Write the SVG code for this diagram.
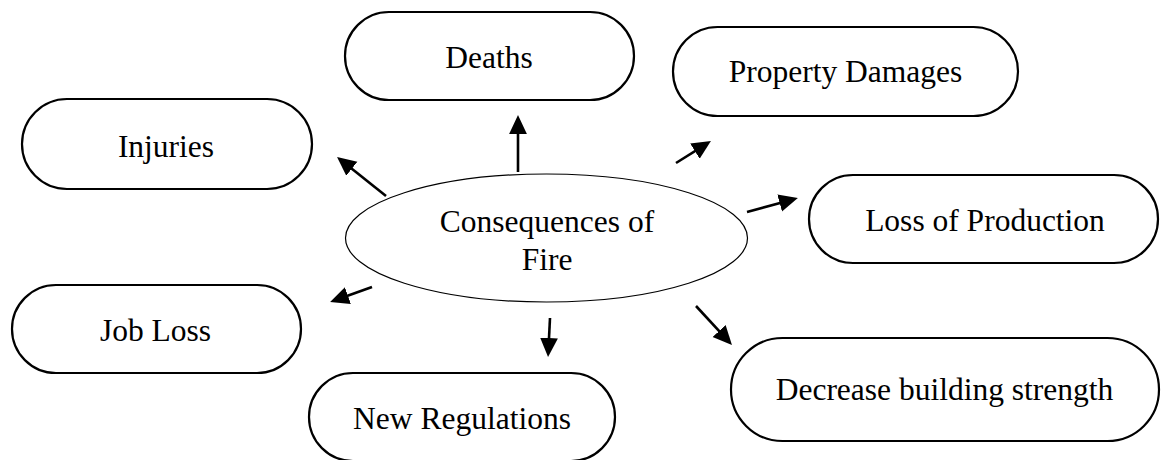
<svg xmlns="http://www.w3.org/2000/svg" width="1163" height="460" viewBox="0 0 1163 460">
  <style>
    .box { fill: #fff; stroke: #000; stroke-width: 2.2; }
    .hub { fill: #fff; stroke: #000; stroke-width: 1.2; }
    .lbl { font-family: "Liberation Serif", "Times New Roman", serif; font-size: 31.5px; fill: #000; text-anchor: middle; }
    .arrow { stroke: #000; stroke-width: 2.6; fill: none; marker-end: url(#head); }
  </style>
  <defs>
    <marker id="head" markerUnits="userSpaceOnUse" markerWidth="20" markerHeight="20" viewBox="0 -9 18 18" refX="9" refY="0" orient="auto">
      <path d="M0,-8 L17,0 L0,8 Z" fill="#000"/>
    </marker>
  </defs>

  <rect width="1163" height="460" fill="#fff"/>

  <!-- central topic -->
  <g id="consequences">
    <ellipse class="hub" cx="546.5" cy="238" rx="201" ry="64"/>
    <text class="lbl" x="547" y="232">Consequences of</text>
    <text class="lbl" x="547" y="270">Fire</text>
  </g>

  <g id="deaths">
    <rect class="box" x="345" y="12" width="289" height="88" rx="44" ry="44"/>
    <text class="lbl" x="489" y="68">Deaths</text>
  </g>

  <g id="injuries">
    <rect class="box" x="22" y="99" width="290" height="90" rx="45" ry="45"/>
    <text class="lbl" x="166" y="157">Injuries</text>
  </g>

  <g id="property-damages">
    <rect class="box" x="673" y="27" width="345" height="89" rx="44.5" ry="44.5"/>
    <text class="lbl" x="845.5" y="82">Property Damages</text>
  </g>

  <g id="loss-of-production">
    <rect class="box" x="809" y="175" width="349" height="88" rx="44" ry="44"/>
    <text class="lbl" x="985" y="231">Loss of Production</text>
  </g>

  <g id="job-loss">
    <rect class="box" x="12" y="285" width="289" height="88" rx="44" ry="44"/>
    <text class="lbl" x="155.5" y="341">Job Loss</text>
  </g>

  <g id="new-regulations">
    <rect class="box" x="309" y="373" width="306" height="88" rx="44" ry="44"/>
    <text class="lbl" x="462" y="429">New Regulations</text>
  </g>

  <g id="decrease-building-strength">
    <rect class="box" x="731" y="338" width="428" height="103" rx="51.5" ry="51.5"/>
    <text class="lbl" x="944.5" y="400">Decrease building strength</text>
  </g>

  <!-- connectors from the central topic -->
  <g id="connectors">
    <line class="arrow" x1="518" y1="172" x2="518" y2="124"/>
    <line class="arrow" x1="386" y1="196" x2="344" y2="162.6"/>
    <line class="arrow" x1="676" y1="163" x2="703.4" y2="145.8"/>
    <line class="arrow" x1="747" y1="212" x2="789.3" y2="200.4"/>
    <line class="arrow" x1="372" y1="287" x2="338.5" y2="299"/>
    <line class="arrow" x1="550" y1="318" x2="548.5" y2="348"/>
    <line class="arrow" x1="696" y1="306" x2="725.9" y2="338.4"/>
  </g>
</svg>
